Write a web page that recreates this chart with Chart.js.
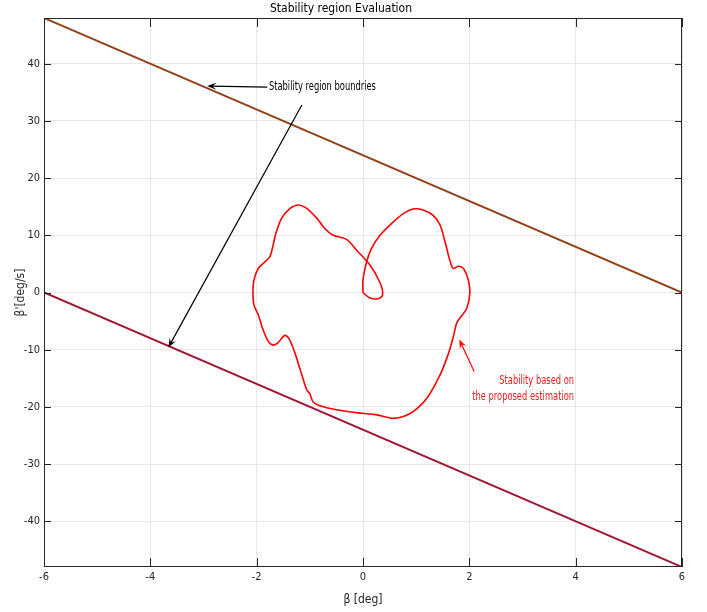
<!DOCTYPE html>
<html lang="en">
<head>
    <meta charset="UTF-8">
    <title>Stability region Evaluation</title>
    <script src="https://cdn.jsdelivr.net/npm/chart.js"></script>
    <style>
        body { margin: 0; background: #fff; }
        #stabilityChart { display: block; }
    </style>
</head>
<body>
    <canvas id="stabilityChart" width="707" height="612"></canvas>

    <script>
        // Boundary lines of the stability region
        const boundaryBeta = [-6, 6];
        const upperBoundary = [48, 0];
        const lowerBoundary = [0, -48];

        // Trajectory based on the proposed estimation (beta [deg], beta' [deg/s])
        const curveBeta = [0.00, 0.12, 0.28, 0.37, 0.32, 0.13, -0.12, -0.31, -0.56, -0.72, -0.87, -1.06, -1.22, -1.37,
            -1.53, -1.64, -1.69, -1.75, -1.84, -1.97, -2.05, -2.07, -2.05, -1.97, -1.88, -1.78, -1.69, -1.60, -1.47,
            -1.38, -1.28, -1.16, -1.06, -1.00, -0.94, -0.78, -0.50, -0.12, 0.26, 0.57, 0.76, 0.95, 1.20, 1.45, 1.61,
            1.70, 1.76, 1.82, 1.95, 2.01, 1.98, 1.89, 1.80, 1.70, 1.64, 1.55, 1.45, 1.32, 1.14, 0.95, 0.76, 0.54,
            0.32, 0.16, 0.06, 0.00, 0.00];
        const curveRate = [0.0, -0.9, -1.1, -0.4, 1.7, 4.8, 7.4, 9.3, 10.0, 11.2, 13.0, 14.7, 15.3, 14.7,
            13.0, 10.3, 8.3, 6.3, 5.4, 4.2, 2.2, -0.1, -2.2, -3.9, -6.5, -8.6, -9.2, -8.8, -7.5,
            -8.3, -10.6, -14.1, -17.0, -17.7, -19.1, -19.9, -20.5, -21.0, -21.4, -22.0, -21.7, -20.8, -18.5, -14.4, -10.6,
            -7.7, -5.4, -4.5, -2.8, -0.1, 2.2, 4.2, 4.6, 4.2, 5.4, 8.6, 11.8, 13.5, 14.4, 14.6, 13.8, 12.1,
            10.0, 7.7, 5.1, 2.2, 0.0];

        // Annotation arrows and notes, in data units
        const arrows = [
            { from: [-1.80, 35.9], to: [-2.93, 36.1], color: '#000000' },
            { from: [-1.15, 32.8], to: [-3.66, -9.6], color: '#000000' },
            { from: [2.09, -13.8], to: [1.81, -8.2], color: '#ff0000' }
        ];
        const notes = [
            { text: 'Stability region boundries', at: [-1.77, 36.0], align: 'left', color: '#000000' },
            { text: 'Stability based on', at: [3.97, -15.5], align: 'right', color: '#ff1a1a' },
            { text: 'the proposed estimation', at: [3.97, -18.2], align: 'right', color: '#ff1a1a' }
        ];

        const fontFamily = "'DejaVu Sans Condensed', 'Liberation Sans Narrow', 'DejaVu Sans', sans-serif";
        const axisColor = '#262626';

        const toPoints = (xs, ys) => xs.map((x, i) => ({ x: x, y: ys[i] }));

        function drawArrow(ctx, x0, y0, x1, y1, color) {
            const ang = Math.atan2(y1 - y0, x1 - x0);
            const len = 9, half = 3.5;
            ctx.save();
            ctx.strokeStyle = color;
            ctx.fillStyle = color;
            ctx.lineWidth = 1.2;
            ctx.beginPath();
            ctx.moveTo(x0, y0);
            ctx.lineTo(x1 - Math.cos(ang) * 4, y1 - Math.sin(ang) * 4);
            ctx.stroke();
            ctx.translate(x1, y1);
            ctx.rotate(ang);
            ctx.beginPath();
            ctx.moveTo(0, 0);
            ctx.lineTo(-len, -half);
            ctx.lineTo(-len * 0.6, 0);
            ctx.lineTo(-len, half);
            ctx.closePath();
            ctx.fill();
            ctx.restore();
        }

        const framePlugin = {
            id: 'frameAndNotes',
            afterDatasetsDraw(chart) {
                const { ctx, chartArea: a, scales: { x, y } } = chart;
                ctx.save();
                ctx.strokeStyle = axisColor;
                ctx.lineWidth = 1;
                ctx.strokeRect(a.left + 0.5, a.top + 0.5, a.right - a.left - 1, a.bottom - a.top - 1);
                ctx.beginPath();
                x.ticks.forEach(t => {
                    const px = Math.round(x.getPixelForValue(t.value)) + 0.5;
                    ctx.moveTo(px, a.bottom); ctx.lineTo(px, a.bottom - 9);
                    ctx.moveTo(px, a.top); ctx.lineTo(px, a.top + 9);
                });
                y.ticks.forEach(t => {
                    const py = Math.round(y.getPixelForValue(t.value)) + 0.5;
                    ctx.moveTo(a.left, py); ctx.lineTo(a.left + 7, py);
                    ctx.moveTo(a.right, py); ctx.lineTo(a.right - 7, py);
                });
                ctx.stroke();
                ctx.restore();

                arrows.forEach(ar => {
                    drawArrow(ctx, x.getPixelForValue(ar.from[0]), y.getPixelForValue(ar.from[1]),
                        x.getPixelForValue(ar.to[0]), y.getPixelForValue(ar.to[1]), ar.color);
                });

                // the notes in the original are set in a narrow face: squeeze them horizontally
                const squeeze = 0.74;
                notes.forEach(n => {
                    ctx.save();
                    ctx.translate(x.getPixelForValue(n.at[0]), y.getPixelForValue(n.at[1]));
                    ctx.scale(squeeze, 1);
                    ctx.font = '12.5px ' + fontFamily;
                    ctx.textBaseline = 'middle';
                    ctx.fillStyle = n.color;
                    ctx.textAlign = n.align;
                    ctx.fillText(n.text, 0, 0);
                    ctx.restore();
                });
            }
        };

        const ctx = document.getElementById('stabilityChart').getContext('2d');
        const stabilityChart = new Chart(ctx, {
            type: 'scatter',
            data: {
                datasets: [
                    {
                        label: 'Upper boundary',
                        data: toPoints(boundaryBeta, upperBoundary),
                        showLine: true,
                        borderColor: '#934018',
                        borderWidth: 2,
                        pointRadius: 0
                    },
                    {
                        label: 'Lower boundary',
                        data: toPoints(boundaryBeta, lowerBoundary),
                        showLine: true,
                        borderColor: '#a2142f',
                        borderWidth: 2,
                        pointRadius: 0
                    },
                    {
                        label: 'Proposed estimation',
                        data: toPoints(curveBeta, curveRate),
                        showLine: true,
                        borderColor: '#ff0000',
                        borderWidth: 1.6,
                        pointRadius: 0,
                        tension: 0.3
                    }
                ]
            },
            options: {
                responsive: false,
                animation: false,
                layout: { padding: { left: 0, right: 25, top: 0, bottom: 0 } },
                plugins: {
                    legend: { display: false },
                    tooltip: { enabled: false },
                    title: {
                        display: true,
                        text: 'Stability region Evaluation',
                        color: '#000',
                        font: { family: fontFamily, size: 12, weight: 'normal' },
                        padding: { top: 2, bottom: 1.6 }
                    }
                },
                scales: {
                    x: {
                        type: 'linear',
                        min: -6,
                        max: 6,
                        ticks: { stepSize: 2, color: axisColor, padding: 4, font: { family: fontFamily, size: 11 } },
                        grid: { color: '#e8e8e8', drawTicks: false },
                        border: { display: false },
                        title: {
                            display: true,
                            text: 'β [deg]',
                            color: axisColor,
                            font: { family: fontFamily, size: 12 },
                            padding: { top: 0, bottom: 4.5 }
                        },
                        afterFit(scale) { scale.height = 45; }
                    },
                    y: {
                        type: 'linear',
                        min: -48,
                        max: 48,
                        ticks: { stepSize: 10, includeBounds: false, color: axisColor, padding: 4, font: { family: fontFamily, size: 11 } },
                        grid: { color: '#e8e8e8', drawTicks: false },
                        border: { display: false },
                        title: {
                            display: true,
                            text: "β'[deg/s]",
                            color: axisColor,
                            font: { family: fontFamily, size: 12 },
                            padding: { top: 14, bottom: 0 }
                        },
                        afterFit(scale) { scale.width = 44; }
                    }
                }
            },
            plugins: [framePlugin]
        });
    </script>
</body>
</html>
